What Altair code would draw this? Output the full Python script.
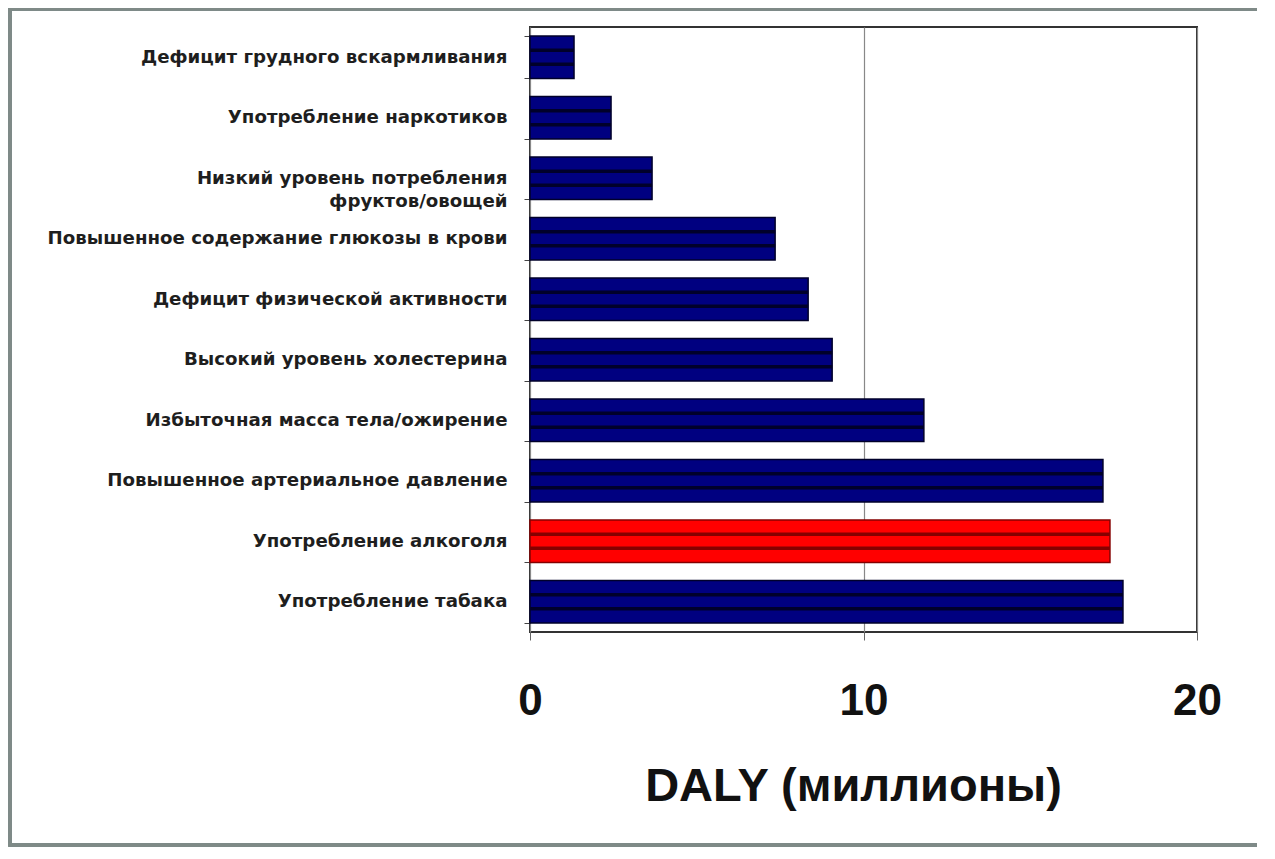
import altair as alt
import pandas as pd

categories = [
    "Дефицит грудного вскармливания",
    "Употребление наркотиков",
    "Низкий уровень потребления|фруктов/овощей",
    "Повышенное содержание глюкозы в крови",
    "Дефицит физической активности",
    "Высокий уровень холестерина",
    "Избыточная масса тела/ожирение",
    "Повышенное артериальное давление",
    "Употребление алкоголя",
    "Употребление табака",
]
daly_millions = [1.32, 2.43, 3.66, 7.35, 8.34, 9.06, 11.81, 17.18, 17.39, 17.78]
group = ["other", "other", "other", "other", "other", "other", "other", "other", "alcohol", "other"]

x_ticks = [0, 10, 20]
x_title = "DALY (миллионы)"

df = pd.DataFrame({"cat": categories, "value": daly_millions, "group": group})

FONT = "Liberation Sans"
LABEL_FONT = "DejaVu Sans"

y_enc_axis = alt.Axis(
    title=None,
    domain=False,
    ticks=True,
    tickBand="extent",
    tickSize=6,
    tickColor="#444444",
    labelFont=LABEL_FONT,
    labelFontSize=18.2,
    labelFontWeight="bold",
    labelColor="#1e1e1e",
    labelPadding=17,
    labelLimit=600,
    labelLineHeight=23,
    labelExpr="split(datum.label, '|')",
    grid=False,
)

x_scale = alt.Scale(domain=[0, 20], nice=False, zero=True)
y_scale = alt.Scale(paddingInner=0.3, paddingOuter=0.15)

fill_scale = alt.Scale(domain=["other", "alcohol"], range=["#000080", "#ff0000"])
stroke_scale = alt.Scale(domain=["other", "alcohol"], range=["#00002a", "#850000"])

base = alt.Chart(df).transform_calculate(zero="0")

bars = base.mark_bar(strokeWidth=1.5).encode(
    y=alt.Y("cat:N", sort=None, scale=y_scale, axis=y_enc_axis),
    x=alt.X(
        "value:Q",
        scale=x_scale,
        axis=alt.Axis(
            values=x_ticks,
            format="d",
            domain=False,
            grid=True,
            gridColor="#888888",
            gridWidth=1.2,
            ticks=True,
            tickSize=8,
            tickColor="#666666",
            labelFont=FONT,
            labelFontSize=44,
            labelFontWeight="bold",
            labelColor="#111111",
            labelPadding=39,
            labelFlush=False,
            title=x_title,
            titleFont=FONT,
            titleFontSize=47,
            titleFontWeight="bold",
            titleColor="#111111",
            titleX=323,
            titleY=168,
            titleAlign="center",
            titleBaseline="alphabetic",
        ),
    ),
    fill=alt.Fill("group:N", scale=fill_scale, legend=None),
    stroke=alt.Stroke("group:N", scale=stroke_scale, legend=None),
)

stripe1 = base.mark_rule(strokeWidth=3.5).encode(
    y=alt.Y("cat:N", sort=None, bandPosition=1 / 3),
    x=alt.X("zero:Q"),
    x2=alt.X2("value"),
    stroke=alt.Stroke("group:N", scale=stroke_scale, legend=None),
)
stripe2 = base.mark_rule(strokeWidth=3.5).encode(
    y=alt.Y("cat:N", sort=None, bandPosition=2 / 3),
    x=alt.X("zero:Q"),
    x2=alt.X2("value"),
    stroke=alt.Stroke("group:N", scale=stroke_scale, legend=None),
)

frame = base.mark_rect(
    filled=False, stroke="#7f8a87", strokeWidth=3
).encode(
    x=alt.value(-520), x2=alt.value(900), y=alt.value(-18), y2=alt.value(818)
)

chart = (
    alt.layer(frame, bars, stripe1, stripe2)
    .properties(
        width=667,
        height=605,
        autosize=alt.AutoSizeParams(type="none"),
        padding={"left": 522, "top": 19, "right": 60, "bottom": 215},
        background="white",
    )
    .configure_view(stroke="#333333", strokeWidth=2)
)

chart.save("out.html", embed_options={"renderer": "svg", "actions": False})
